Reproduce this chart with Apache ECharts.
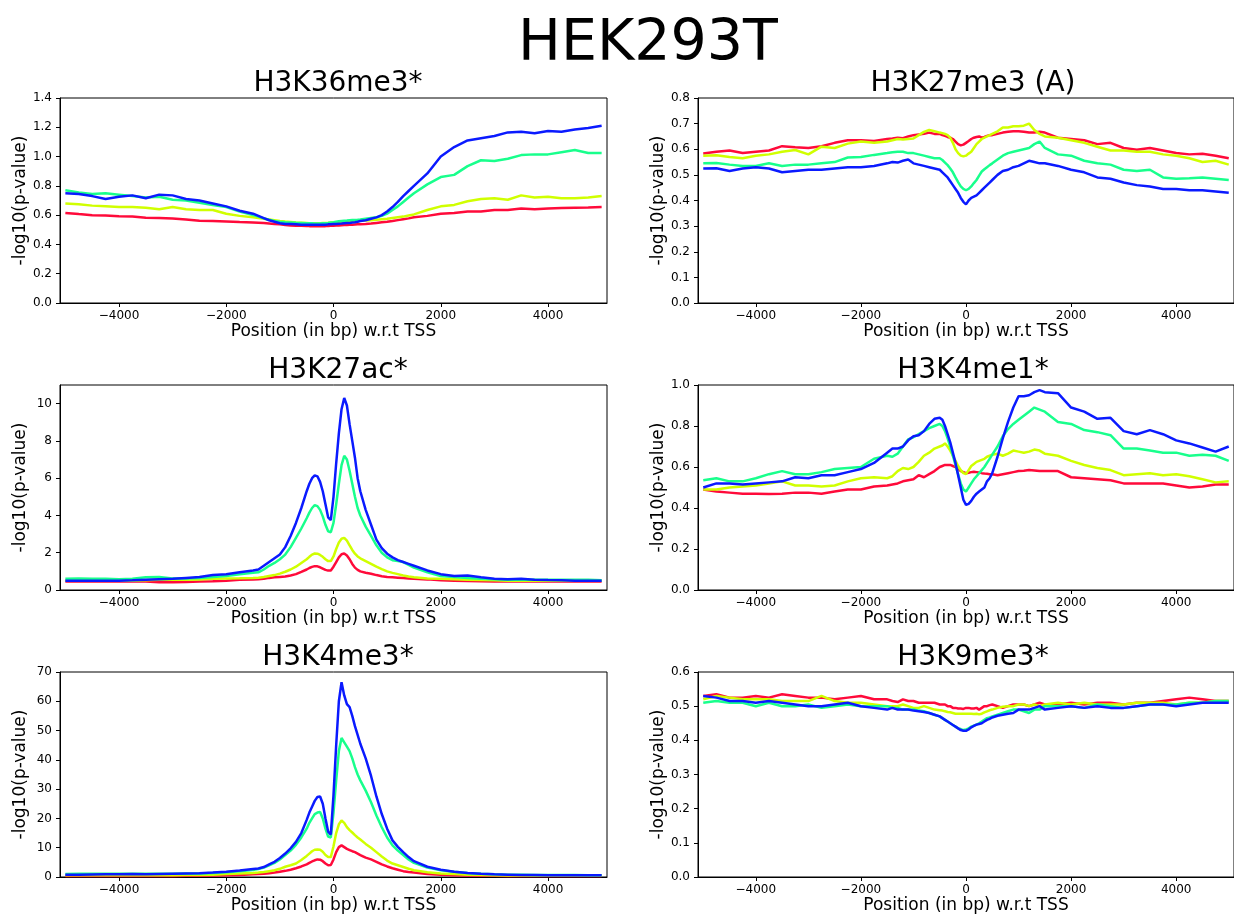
<!DOCTYPE html>
<html style="height: 100%">
<head>
    <meta charset="utf-8">
</head>
<body style="height: 100%; margin: 0; background: #fff">
    <div id="container" style="width: 1234px; height: 918px"></div>
    <script type="text/javascript" src="https://cdn.jsdelivr.net/npm/echarts@6/dist/echarts.min.js"></script>
    <script type="text/javascript">
        // positions (bp) relative to TSS, finer near the TSS
        var positions = [-5000, -4750, -4500, -4250, -4000, -3750, -3500, -3250, -3000, -2750, -2500, -2250, -2000, -1750,
            -1500, -1400, -1300, -1200, -1100, -1000, -900, -800, -700, -600,
            -500, -450, -400, -350, -300, -250, -200, -150, -100, -50, 0, 50, 100, 150, 200, 250, 300, 350, 400, 450, 500,
            600, 700, 800, 900, 1000, 1100, 1200, 1300, 1400, 1500,
            1750, 2000, 2250, 2500, 2750, 3000, 3250, 3500, 3750, 4000, 4250, 4500, 4750, 5000];
        var xTicks = [-4000, -2000, 0, 2000, 4000];
        var lineColors = ['#ff0a3a', '#d0ff00', '#18ff8c', '#0a1aff'];

        // H3K36me3*
        var k36Red = [.615, .607, .60, .598, .592, .59, .582, .58, .577, .57, .562, .56, .557, .553,
            .55, .548, .546, .543, .54, .537, .533, .53, .528, .527,
            .526, .525, .525, .524, .524, .524, .525, .525, .526, .527, .528, .529, .53, .531, .532, .533, .534, .535, .536, .537, .538,
            .54, .543, .547, .551, .555, .56, .566, .572, .578, .585,
            .595, .61, .615, .625, .625, .635, .635, .645, .64, .645, .648, .65, .652, .655];
        var k36Yellow = [.68, .675, .665, .66, .655, .655, .65, .64, .655, .64, .635, .635, .61, .595,
            .585, .58, .575, .57, .565, .56, .556, .553, .55, .548,
            .546, .545, .545, .545, .545, .545, .546, .547, .548, .55, .551, .552, .553, .554, .555, .556, .557, .558, .559, .56, .561,
            .563, .565, .568, .572, .575, .58, .585, .59, .598, .605,
            .635, .66, .67, .695, .71, .715, .705, .735, .72, .725, .715, .715, .72, .73];
        var k36Green = [.77, .755, .745, .75, .74, .73, .72, .725, .705, .70, .685, .67, .655, .625,
            .60, .59, .578, .568, .56, .555, .552, .55, .548, .547,
            .545, .545, .544, .543, .543, .543, .544, .545, .547, .55, .552, .555, .558, .56, .562, .563, .565, .566, .567, .568, .57,
            .575, .58, .585, .595, .61, .635, .66, .69, .72, .75,
            .81, .86, .875, .935, .975, .97, .985, 1.01, 1.015, 1.015, 1.03, 1.045, 1.025, 1.025];
        var k36Blue = [.75, .745, .73, .71, .725, .735, .715, .74, .735, .71, .70, .68, .66, .63,
            .61, .595, .58, .565, .555, .545, .54, .54, .538, .535,
            .535, .535, .535, .535, .535, .535, .535, .535, .537, .538, .54, .54, .542, .543, .545, .546, .547, .55, .552, .555, .56,
            .565, .575, .585, .60, .625, .655, .69, .73, .765, .80,
            .885, 1.00, 1.065, 1.11, 1.125, 1.14, 1.165, 1.17, 1.16, 1.175, 1.17, 1.185, 1.195, 1.21];

        // H3K27me3 (A)
        var k27me3Red = [.583, .59, .595, .585, .59, .595, .612, .608, .605, .612, .625, .635, .635, .632,
            .64, .642, .645, .643, .65, .655, .658, .66, .665, .66,
            .66, .655, .652, .648, .645, .64, .63, .62, .615, .618, .625, .632, .64, .645, .648, .65, .645, .648, .652, .655, .655,
            .66, .665, .668, .67, .67, .668, .665, .665, .668, .665,
            .645, .64, .635, .62, .625, .605, .598, .605, .595, .585, .58, .582, .575, .565];
        var k27me3Yellow = [.575, .577, .57, .565, .575, .58, .59, .597, .58, .61, .605, .622, .63, .625,
            .63, .635, .64, .638, .64, .642, .655, .668, .675, .67,
            .665, .663, .66, .655, .645, .625, .60, .585, .575, .572, .575, .583, .59, .605, .62, .63, .64, .645, .65, .655, .66,
            .67, .685, .685, .69, .69, .692, .70, .675, .66, .65,
            .645, .635, .625, .61, .595, .595, .59, .59, .58, .575, .565, .55, .555, .54];
        var k27me3Green = [.545, .546, .54, .535, .535, .545, .535, .54, .54, .545, .55, .568, .57, .578,
            .585, .588, .59, .59, .585, .585, .58, .575, .57, .565,
            .565, .558, .548, .538, .525, .51, .49, .472, .455, .445, .44, .445, .455, .468, .48, .497, .513, .522, .53, .538, .545,
            .56, .575, .585, .59, .595, .60, .605, .62, .63, .605,
            .58, .575, .555, .545, .54, .52, .515, .52, .49, .485, .487, .49, .485, .48];
        var k27me3Blue = [.525, .526, .515, .525, .53, .525, .51, .515, .52, .52, .525, .53, .53, .535,
            .545, .55, .548, .555, .56, .545, .54, .535, .53, .525,
            .52, .51, .50, .49, .475, .46, .445, .43, .41, .395, .385, .40, .41, .415, .42, .43, .44, .45, .46, .47, .48,
            .50, .515, .52, .53, .535, .545, .555, .55, .545, .545,
            .535, .52, .51, .49, .485, .47, .46, .455, .445, .445, .44, .44, .435, .43];

        // H3K27ac*
        var k27acRed = [.45, .45, .45, .45, .45, .45, .45, .42, .42, .43, .45, .47, .5, .55,
            .57, .58, .6, .65, .68, .7, .72, .78, .85, .97,
            1.1, 1.18, 1.24, 1.28, 1.27, 1.22, 1.15, 1.08, 1.04, 1.05, 1.25, 1.5, 1.75, 1.92, 1.96, 1.85, 1.65, 1.4, 1.2, 1.08, 1.0,
            .93, .87, .8, .74, .7, .68, .66, .64, .62, .6,
            .57, .52, .5, .48, .47, .46, .46, .46, .46, .46, .46, .46, .46, .46];
        var k27acYellow = [.5, .5, .5, .5, .5, .5, .52, .55, .55, .55, .57, .6, .62, .63,
            .65, .66, .7, .75, .8, .88, .98, 1.1, 1.25, 1.45,
            1.65, 1.78, 1.9, 1.96, 1.95, 1.88, 1.78, 1.65, 1.55, 1.55, 1.8, 2.2, 2.55, 2.75, 2.8, 2.65, 2.4, 2.15, 1.95, 1.8, 1.7,
            1.55, 1.4, 1.25, 1.12, 1.0, .92, .85, .78, .72, .68,
            .62, .6, .58, .55, .53, .52, .5, .5, .5, .5, .5, .5, .5, .5];
        var k27acGreen = [.6, .62, .6, .6, .58, .6, .68, .7, .62, .62, .65, .7, .75, .85,
            .92, .95, 1.1, 1.3, 1.45, 1.65, 1.9, 2.3, 2.8, 3.3,
            3.85, 4.15, 4.4, 4.55, 4.5, 4.3, 3.95, 3.5, 3.15, 3.1, 3.6, 4.6, 5.7, 6.7, 7.2, 7.0, 6.4, 5.7, 5.0, 4.4, 4.0,
            3.4, 2.9, 2.4, 2.0, 1.75, 1.6, 1.55, 1.5, 1.35, 1.2,
            .95, .75, .7, .65, .6, .58, .55, .55, .55, .55, .55, .55, .55, .52];
        var k27acBlue = [.5, .5, .5, .5, .5, .52, .55, .58, .6, .65, .7, .8, .85, .95,
            1.05, 1.1, 1.3, 1.5, 1.7, 1.9, 2.3, 2.9, 3.6, 4.4,
            5.3, 5.7, 6.0, 6.15, 6.1, 5.8, 5.3, 4.6, 3.9, 3.75, 5.0, 6.8, 8.4, 9.7, 10.3, 9.9, 8.9, 8.0, 7.1, 6.0, 5.3,
            4.3, 3.5, 2.7, 2.25, 1.95, 1.75, 1.6, 1.5, 1.4, 1.3,
            1.05, .85, .75, .78, .68, .6, .58, .6, .55, .53, .52, .5, .5, .5];

        // H3K4me1*
        var k4me1Red = [.49, .48, .475, .47, .47, .468, .47, .475, .475, .47, .48, .49, .49, .505,
            .51, .515, .52, .53, .535, .54, .56, .55, .565, .58,
            .60, .605, .61, .61, .61, .605, .60, .59, .58, .575, .57, .572, .575, .577, .575, .573, .57, .568, .567, .565, .565,
            .56, .565, .57, .575, .58, .582, .585, .583, .58, .58,
            .58, .55, .545, .54, .535, .52, .52, .52, .52, .51, .50, .505, .515, .515];
        var k4me1Yellow = [.49, .49, .50, .505, .51, .52, .53, .51, .51, .505, .51, .53, .545, .55,
            .545, .555, .58, .595, .59, .60, .625, .655, .67, .69,
            .70, .705, .715, .70, .68, .655, .63, .605, .585, .57, .565, .585, .605, .615, .625, .63, .635, .64, .65, .655, .66,
            .665, .655, .665, .68, .675, .67, .675, .685, .68, .665,
            .655, .63, .61, .595, .585, .56, .565, .57, .56, .565, .555, .54, .525, .53];
        var k4me1Green = [.535, .545, .53, .53, .545, .565, .58, .565, .565, .575, .59, .595, .60, .64,
            .655, .65, .665, .70, .735, .745, .76, .775, .79, .80,
            .81, .80, .775, .74, .70, .655, .61, .565, .52, .49, .48, .50, .52, .54, .555, .57, .585, .60, .62, .64, .66,
            .70, .75, .785, .81, .83, .85, .87, .89, .88, .87,
            .82, .81, .78, .77, .755, .69, .69, .68, .67, .67, .655, .66, .655, .63];
        var k4me1Blue = [.50, .52, .52, .515, .52, .525, .53, .55, .545, .56, .56, .575, .59, .62,
            .67, .69, .69, .70, .73, .75, .755, .775, .81, .835,
            .84, .83, .80, .76, .72, .67, .62, .56, .50, .44, .415, .42, .435, .455, .47, .48, .49, .50, .53, .545, .57,
            .65, .74, .82, .89, .945, .945, .95, .965, .975, .965,
            .96, .89, .87, .835, .84, .775, .76, .78, .76, .73, .715, .695, .675, .70];

        // H3K4me3*
        var k4me3Red = [.3, .3, .3, .3, .3, .3, .3, .3, .3, .4, .4, .5, .6, .7,
            .9, 1.0, 1.1, 1.3, 1.5, 1.8, 2.1, 2.5, 3.0, 3.6,
            4.3, 4.8, 5.3, 5.7, 6.0, 5.9, 5.4, 4.6, 4.0, 4.1, 6.0, 8.5, 10.2, 10.8, 10.2, 9.6, 9.2, 8.8, 8.5, 8.0, 7.5,
            6.6, 6.0, 5.2, 4.3, 3.6, 3.0, 2.5, 2.0, 1.7, 1.5,
            1.0, .8, .6, .5, .4, .4, .3, .3, .3, .3, .3, .3, .3, .3];
        var k4me3Yellow = [.6, .6, .6, .6, .6, .65, .6, .6, .6, .65, .7, .8, 1.0, 1.2,
            1.4, 1.5, 1.7, 2.0, 2.3, 2.8, 3.5, 4.0, 4.6, 5.8,
            7.2, 8.0, 8.8, 9.3, 9.4, 9.3, 8.6, 7.5, 6.8, 6.8, 10.5, 15.0, 18.0, 19.3, 18.5, 17.0, 16.0, 15.2, 14.3, 13.5, 12.8,
            11.3, 10.0, 8.5, 7.0, 5.6, 4.6, 4.0, 3.4, 2.8, 2.3,
            1.6, 1.2, 1.0, .8, .7, .6, .5, .5, .5, .5, .5, .5, .5, .5];
        var k4me3Green = [1.0, 1.1, 1.1, 1.1, 1.1, 1.1, 1.1, 1.1, 1.1, 1.2, 1.2, 1.4, 1.6, 2.0,
            2.4, 2.7, 3.2, 4.0, 4.8, 6.0, 7.5, 9.0, 11.0, 13.5,
            16.5, 18.5, 20.0, 21.5, 22.0, 22.2, 20.0, 16.5, 13.8, 13.5, 22.0, 33.0, 43.0, 47.5, 46.0, 44.5, 43.0, 40.5, 37.5, 35.0, 33.0,
            29.5, 25.5, 21.0, 17.0, 13.5, 10.8, 9.0, 7.5, 6.0, 4.8,
            3.2, 2.3, 1.8, 1.4, 1.1, .9, .8, .8, .7, .7, .7, .7, .6, .6];
        var k4me3Blue = [.8, .8, .85, .9, .9, 1.0, .9, 1.0, 1.1, 1.2, 1.3, 1.5, 1.8, 2.2,
            2.7, 2.9, 3.4, 4.3, 5.2, 6.5, 8.0, 9.8, 12.0, 15.0,
            19.5, 22.0, 24.0, 26.0, 27.3, 27.5, 25.0, 20.0, 15.5, 14.5, 28.0, 45.0, 60.0, 66.5, 62.0, 59.0, 58.0, 55.0, 51.5, 48.5, 45.5,
            40.5, 34.5, 27.5, 21.5, 16.5, 12.5, 10.3, 8.5, 6.8, 5.4,
            3.5, 2.5, 1.8, 1.4, 1.1, .9, .8, .7, .7, .6, .6, .6, .6, .6];

        // H3K9me3*
        var k9me3Red = [.53, .535, .525, .525, .53, .525, .535, .53, .525, .525, .52, .525, .53, .52,
            .52, .515, .512, .52, .515, .515, .51, .51, .51, .51,
            .505, .505, .505, .50, .50, .495, .495, .493, .493, .492, .495, .495, .493, .493, .495, .49, .495, .50, .50, .503, .505,
            .50, .495, .50, .505, .505, .505, .50, .505, .51, .505,
            .505, .51, .505, .51, .51, .505, .51, .51, .515, .52, .525, .52, .515, .515];
        var k9me3Yellow = [.52, .53, .525, .52, .52, .52, .515, .515, .515, .53, .515, .51, .51, .505,
            .50, .50, .50, .505, .50, .495, .495, .50, .495, .49,
            .488, .487, .485, .483, .482, .48, .478, .478, .478, .478, .478, .478, .478, .477, .478, .476, .478, .482, .485, .488, .49,
            .495, .498, .50, .50, .505, .505, .50, .505, .50, .505,
            .51, .505, .51, .505, .505, .505, .51, .51, .51, .505, .51, .51, .515, .515];
        var k9me3Green = [.51, .515, .51, .51, .50, .51, .50, .50, .505, .495, .50, .505, .50, .50,
            .50, .495, .495, .49, .49, .49, .487, .485, .48, .475,
            .47, .465, .46, .455, .45, .445, .44, .435, .433, .43, .432, .435, .44, .443, .446, .45, .455, .46, .465, .467, .47,
            .475, .48, .485, .49, .49, .485, .48, .49, .49, .50,
            .50, .50, .495, .505, .50, .495, .50, .505, .505, .505, .51, .51, .515, .515];
        var k9me3Blue = [.53, .525, .515, .515, .51, .515, .51, .505, .50, .50, .505, .51, .50, .495,
            .49, .495, .49, .49, .49, .487, .485, .483, .48, .475,
            .47, .465, .46, .455, .45, .445, .44, .435, .43, .428, .428, .432, .438, .442, .446, .448, .45, .455, .46, .463, .467,
            .472, .475, .478, .48, .49, .49, .49, .495, .50, .49,
            .495, .50, .495, .50, .495, .495, .50, .505, .505, .50, .505, .51, .51, .51];

        // y tick labels of each panel
        var k36Ticks = [0, 0.2, 0.4, 0.6, 0.8, 1.0, 1.2, 1.4];
        var k27me3Ticks = [0, 0.1, 0.2, 0.3, 0.4, 0.5, 0.6, 0.7, 0.8];
        var k27acTicks = [0, 2, 4, 6, 8, 10];
        var k4me1Ticks = [0, 0.2, 0.4, 0.6, 0.8, 1.0];
        var k4me3Ticks = [0, 10, 20, 30, 40, 50, 60, 70];
        var k9me3Ticks = [0, 0.1, 0.2, 0.3, 0.4, 0.5, 0.6];

        var panels = [
            {name: 'H3K36me3*', lines: [k36Red, k36Yellow, k36Green, k36Blue], yMax: 1.4, ticks: k36Ticks, dec: 1},
            {name: 'H3K27me3 (A)', lines: [k27me3Red, k27me3Yellow, k27me3Green, k27me3Blue], yMax: 0.8, ticks: k27me3Ticks, dec: 1},
            {name: 'H3K27ac*', lines: [k27acRed, k27acYellow, k27acGreen, k27acBlue], yMax: 11, ticks: k27acTicks, dec: 0},
            {name: 'H3K4me1*', lines: [k4me1Red, k4me1Yellow, k4me1Green, k4me1Blue], yMax: 1.0, ticks: k4me1Ticks, dec: 1},
            {name: 'H3K4me3*', lines: [k4me3Red, k4me3Yellow, k4me3Green, k4me3Blue], yMax: 70, ticks: k4me3Ticks, dec: 0},
            {name: 'H3K9me3*', lines: [k9me3Red, k9me3Yellow, k9me3Green, k9me3Blue], yMax: 0.6, ticks: k9me3Ticks, dec: 1}
        ];

        var font = 'DejaVu Sans';
        var colLeft = [60, 698];
        var titleX = [333, 968];
        var rowTop = [98, 385, 672];
        var plotW = 547, plotH = 205;

        var titles = [{
            text: 'HEK293T',
            left: 643,
            textAlign: 'center',
            top: 12,
            textStyle: {fontFamily: font, fontSize: 57, fontWeight: 'normal', color: '#000'}
        }];
        var grids = [], xAxes = [], yAxes = [], series = [];

        panels.forEach(function(p, i) {
            var c = i % 2, r = Math.floor(i / 2);
            titles.push({
                text: p.name,
                left: titleX[c],
                textAlign: 'center',
                top: rowTop[r] - 33,
                textStyle: {fontFamily: font, fontSize: 28, fontWeight: 'normal', color: '#000'}
            });
            grids.push({
                left: colLeft[c], top: rowTop[r], width: plotW, height: plotH,
                show: true, borderColor: '#000', borderWidth: 1, backgroundColor: 'transparent'
            });
            xAxes.push({
                type: 'value', gridIndex: i, min: -5100, max: 5100,
                name: 'Position (in bp) w.r.t TSS', nameLocation: 'middle', nameGap: 20,
                nameTextStyle: {fontFamily: font, fontSize: 17, color: '#000'},
                axisLine: {onZero: false, lineStyle: {color: '#000', width: 1}},
                axisTick: {length: 4, customValues: xTicks, lineStyle: {color: '#000'}},
                axisLabel: {
                    customValues: xTicks, margin: 7, fontFamily: font, fontSize: 12, color: '#000',
                    formatter: function(v) { return v < 0 ? '\u2212' + Math.abs(v) : String(v); }
                },
                splitLine: {show: false}
            });
            yAxes.push({
                type: 'value', gridIndex: i, min: 0, max: p.yMax,
                name: '-log10(p-value)', nameLocation: 'middle', nameGap: 31,
                nameTextStyle: {fontFamily: font, fontSize: 17, color: '#000'},
                axisLine: {show: true, onZero: false, lineStyle: {color: '#000', width: 1}},
                axisTick: {show: true, length: 4, customValues: p.ticks, lineStyle: {color: '#000'}},
                axisLabel: {
                    customValues: p.ticks, margin: 8, fontFamily: font, fontSize: 12, color: '#000',
                    formatter: function(v) { return v.toFixed(p.dec); }
                },
                splitLine: {show: false}
            });
            p.lines.forEach(function(vals, k) {
                series.push({
                    type: 'line', xAxisIndex: i, yAxisIndex: i,
                    showSymbol: false, silent: true,
                    lineStyle: {color: lineColors[k], width: 2.5},
                    data: positions.map(function(x, j) { return [x, vals[j]]; })
                });
            });
        });

        var myChart = echarts.init(document.getElementById('container'));
        myChart.setOption({
            backgroundColor: '#fff',
            animation: false,
            title: titles,
            grid: grids,
            xAxis: xAxes,
            yAxis: yAxes,
            series: series
        });
    </script>
</body>
</html>
